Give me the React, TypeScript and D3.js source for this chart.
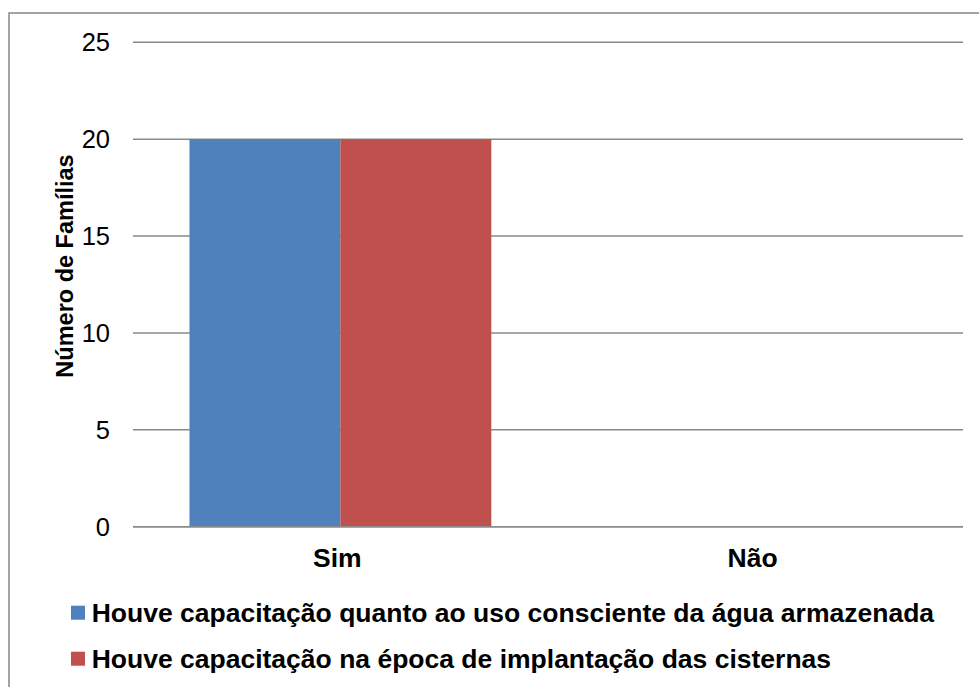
import React from "react";
import * as d3 from "d3";

const categories = ["Sim", "Não"];
const seriesNames = [
  "Houve capacitação quanto ao uso consciente da água armazenada",
  "Houve capacitação na época de implantação das cisternas",
];
const seriesA = [20, 0];
const seriesB = [20, 0];
const yTicks = [0, 5, 10, 15, 20, 25];
const colors = ["#4f81bd", "#c0504d"];

const W = 979;
const H = 687;
const FONT = "'Liberation Sans', Arial, Helvetica, sans-serif";

export default function App() {
  const y = d3.scaleLinear().domain([0, 25]).range([526.7, 42.3]);
  const x0 = d3
    .scaleBand<string>()
    .domain(categories)
    .range([133, 963])
    .paddingInner(0.273)
    .paddingOuter(0.136);
  const x1 = d3
    .scaleBand<number>()
    .domain([0, 1])
    .range([0, x0.bandwidth()]);
  const series = [seriesA, seriesB];

  return (
    <svg
      width={W}
      height={H}
      style={{ position: "absolute", left: 0, top: 0, background: "#fff" }}
      fontFamily={FONT}
    >
      <rect x={0} y={0} width={W} height={H} fill="#fff" />
      <rect x={9} y={13} width={1000} height={720} fill="none" stroke="#868686" strokeWidth={1.5} />

      {yTicks.map((t) => (
        <g key={t}>
          <line x1={133} x2={963} y1={y(t)} y2={y(t)} stroke="#8a8a8a" strokeWidth={1.6} />
          <text x={110} y={y(t)} dy="0.35em" textAnchor="end" fontSize={25.5} fill="#000">
            {t}
          </text>
        </g>
      ))}

      {categories.map((c, i) =>
        series.map((s, j) => (
          <rect
            key={c + j}
            x={(x0(c) ?? 0) + (x1(j) ?? 0)}
            y={y(s[i])}
            width={x1.bandwidth()}
            height={y(0) - y(s[i])}
            fill={colors[j]}
          />
        ))
      )}

      <line x1={133} x2={963} y1={y(0)} y2={y(0)} stroke="#8a8a8a" strokeWidth={1.6} />

      {categories.map((c) => (
        <text
          key={c}
          x={(x0(c) ?? 0) + x0.bandwidth() / 2 - 3}
          y={566.7}
          textAnchor="middle"
          fontSize={26.5}
          fontWeight="bold"
          fill="#000"
        >
          {c}
        </text>
      ))}

      <text
        transform={`translate(73,266) rotate(-90)`}
        textAnchor="middle"
        fontSize={23.5}
        fontWeight="bold"
        fill="#000"
      >
        Número de Famílias
      </text>

      {seriesNames.map((name, j) => (
        <g key={name} transform={`translate(71,${605.7 + j * 46})`}>
          <rect x={0} y={0} width={14} height={14} fill={colors[j]} />
          <text x={20.7} y={16} fontSize={26.5} fontWeight="bold" fill="#000">
            {name}
          </text>
        </g>
      ))}
    </svg>
  );
}
